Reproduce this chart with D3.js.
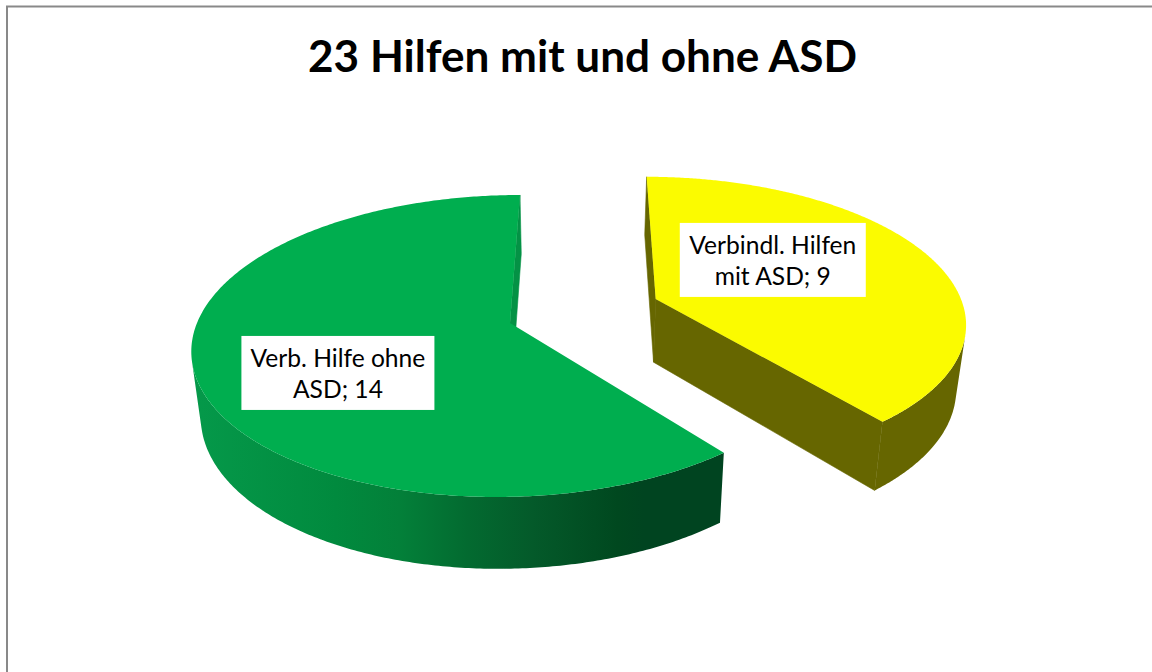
<!DOCTYPE html>
<html><head><meta charset="utf-8">
<script src="https://cdn.jsdelivr.net/npm/d3@7/dist/d3.min.js"></script>
<style>html,body{margin:0;padding:0;background:#fff}svg{display:block}</style>
</head><body><svg id="c" width="1152" height="672"></svg>
<script>
const chartTitle = "23 Hilfen mit und ohne ASD";
const categories = ["Verbindl. Hilfen mit ASD", "Verb. Hilfe ohne ASD"];
const values = [9, 14];
const faceColors = ["#fbfb00", "#00ae4f"];
const wallColors = ["#666600", "#049245"];
const labelLines = [["Verbindl. Hilfen", "mit ASD; 9"], ["Verb. Hilfe ohne", "ASD; 14"]];

// layout: perspective projection of the pie plane
const P = {x0:585.8, y0:323, k:.1522, B:147.5, R:313, cx:-75.8, explode:[.5,0],
           vx:570, vs:.975, depA:22.3, depB:42};
const svg = d3.select("#c");
const defs = svg.append("defs");
const grad = defs.append("linearGradient").attr("id","gw").attr("gradientUnits","userSpaceOnUse")
  .attr("x1",192).attr("x2",724).attr("y1",0).attr("y2",0);
[[0,"#05994a"],[.27,"#018a3e"],[.39,"#038039"],[.52,"#036a30"],[.64,"#045a2a"],[.8,"#00481f"],[.85,"#004420"],[1,"#004420"]]
  .forEach(s=>grad.append("stop").attr("offset",s[0]).attr("stop-color",s[1]));

// border
svg.append("path").attr("d","M7 672V6.5H1152").attr("fill","none").attr("stroke","#898989").attr("stroke-width",2);

const pie = d3.pie().sort(null).value(d=>d);
const slices = pie(values);
const pathLine = d3.line();

function sliceCenter(s,i){
  const mid=(s.startAngle+s.endAngle)/2, e=P.explode[i];
  return {X:P.cx+e*P.R*Math.sin(mid), V:-e*Math.cos(mid)};
}
function proj(X,V){
  const w=1-P.k*V;
  return {x:P.x0+X/w, y:P.y0+P.B*V/w, w};
}
function topPt(c,a,r=1){ return proj(c.X+r*P.R*Math.sin(a), c.V-r*Math.cos(a)); }
function botPt(p){ return {x:P.vx+(p.x-P.vx)*P.vs, y:p.y+P.depA+P.depB/p.w}; }
const xy=p=>[p.x,p.y];

const order=[1,0];
order.forEach(i=>{
  const s=slices[i], c=sliceCenter(s,i), g=svg.append("g").attr("class","slice");
  const as=d3.range(0,361).map(t=>s.startAngle+(s.endAngle-s.startAngle)*t/360);
  const apex=proj(c.X,c.V), rim=as.map(a=>topPt(c,a));
  const midP=topPt(c,(s.startAngle+s.endAngle)/2);
  // straight cut walls (only those that face the viewer)
  [rim[0],rim[360]].forEach(r=>{
    const ex=r.x-apex.x, ey=r.y-apex.y;
    const crossDown=ex*1, crossMid=ex*(midP.y-apex.y)-ey*(midP.x-apex.x);
    if(crossDown*crossMid>0) return;
    g.append("path").attr("d",pathLine([apex,r,botPt(r),botPt(apex)].map(xy))+"Z").attr("fill",wallColors[i])
      .attr("stroke",wallColors[i]).attr("stroke-width",.6);
  });
  // outer wall: the outward-facing strips between the top rim and the bottom rim
  let d="";
  for(let t=0;t<360;t++){
    const a=rim[t], b=rim[t+1], A=botPt(a), B=botPt(b);
    if(d3.polygonArea([a,b,B,A].map(xy))>0) d+=pathLine([a,b,B,A].map(xy))+"Z";
  }
  g.append("path").attr("d",d).attr("fill",i===1?"url(#gw)":wallColors[i]);
  // top face
  g.append("path").attr("d",pathLine([apex].concat(rim).map(xy))+"Z").attr("fill",faceColors[i]);
});

// title
svg.append("text").attr("x",582.5).attr("y",72).attr("text-anchor","middle")
  .attr("font-family","Lato").attr("font-weight",700).attr("font-size",44.1).attr("fill","#000").text(chartTitle);

// labels
const labelOff=[{u:.41,v:-.29},{u:-.511,v:.322}];
const boxW=[186,193], boxH=74;
slices.forEach((s,i)=>{
  const c=sliceCenter(s,i), p=proj(c.X+labelOff[i].u*P.R, c.V+labelOff[i].v);
  const g=svg.append("g").attr("transform",`translate(${p.x},${p.y})`);
  g.append("rect").attr("x",-boxW[i]/2).attr("y",-boxH/2).attr("width",boxW[i]).attr("height",boxH).attr("fill","#fff");
  labelLines[i].forEach((t,j)=>g.append("text").attr("text-anchor","middle").attr("y",-6+j*31)
    .attr("font-family","Lato").attr("font-size",24.6).attr("fill","#000").text(t));
});
</script></body></html>
